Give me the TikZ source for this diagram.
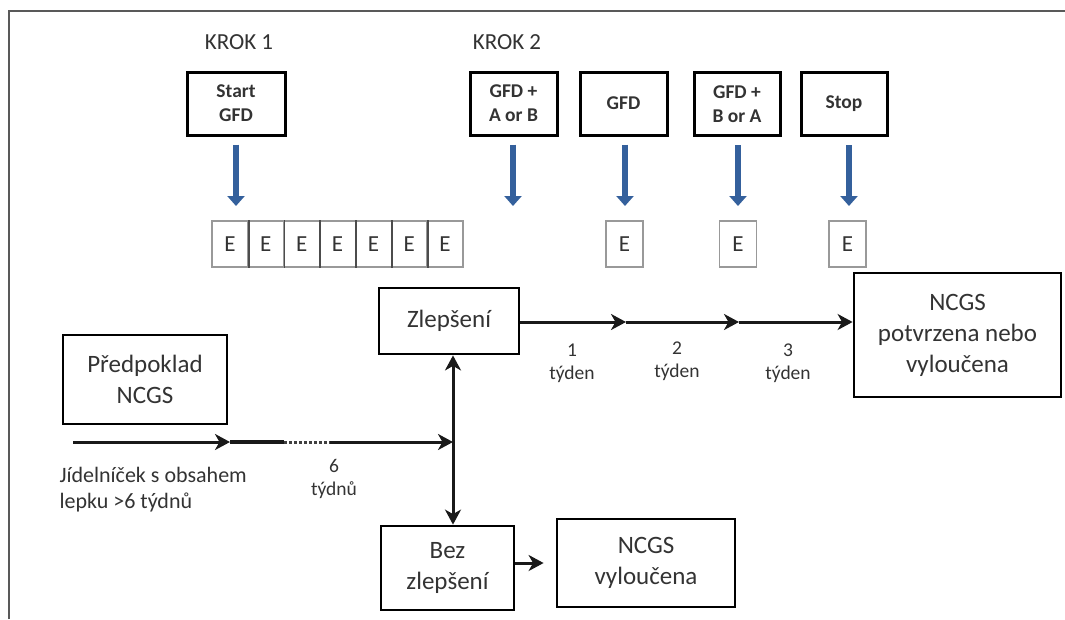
\documentclass[tikz,border=0pt]{standalone}
\usepackage{fontspec}
\setmainfont{Carlito}
\usetikzlibrary{arrows.meta}
\definecolor{blueA}{HTML}{34609C}
\definecolor{txt}{HTML}{333333}
\tikzset{
  x=1pt, y=-1pt,
  topbox/.style={draw, line width=3pt, inner sep=0pt, align=center, text=txt,
    font=\bfseries\fontsize{19.5}{24}\selectfont},
  mainbox/.style={draw, line width=2.8pt, inner sep=0pt, align=center, text=txt,
    font=\fontsize{25}{31}\selectfont},
  ecell/.style={draw=black!40, line width=1.6pt, minimum width=35.86pt, minimum height=46pt,
    inner sep=0pt, text=txt, font=\fontsize{23}{26}\selectfont},
  steplabel/.style={text=txt, font=\fontsize{23}{26}\selectfont},
  weeklabel/.style={align=center, text=txt, font=\fontsize{19.5}{23}\selectfont},
  barrow/.style={draw=blueA, line width=6.5pt, -{Triangle[width=17pt,length=10pt]}},
  conn/.style={draw=black!90, line width=3pt},
  tip/.style={-{Stealth[length=15pt,width=16pt,inset=4.5pt]}},
  dtip/.style={{Stealth[length=15pt,width=16pt,inset=4.5pt]}-{Stealth[length=15pt,width=16pt,inset=4.5pt]}},
  framec/.style={draw=black!65, line width=1.6pt}
}
\begin{document}
\begin{tikzpicture}
\useasboundingbox (0,0) rectangle (1065,619);
% frame
\draw[framec] (9,619) -- (9,11) -- (1065,11);

% step labels
\node[steplabel] (k1) at (239,42) {KROK 1};
\node[steplabel] (k2) at (507,42) {KROK 2};

% top boxes
\node[topbox, minimum width=98pt, minimum height=63pt] (sg) at (236,103.5) {Start\\GFD};
\node[topbox, minimum width=87pt, minimum height=63pt] (ga) at (513.5,103.5) {GFD +\\A or B};
\node[topbox, minimum width=87pt, minimum height=63pt] (g) at (623.5,103.5) {GFD};
\node[topbox, minimum width=86pt, minimum height=63pt] (gb) at (737,104) {GFD +\\B or A};
\node[topbox, minimum width=86pt, minimum height=63pt] (st) at (844,104) {Stop};

% E row
\foreach \i in {0,...,6} {
  \node[ecell] (e\i) at ({229.93+35.86*\i},244) {E};
}
\foreach \i in {0,...,5} {
  \draw[draw=black!70, line width=1.8pt] (e\i.north east) -- (e\i.south east);
}
\node[ecell, minimum width=37pt] (s1) at (624.5,244) {E};
\node[ecell, minimum width=37pt] (s2) at (738,244) {E};
\node[ecell, minimum width=37pt] (s3) at (847.5,244) {E};

% blue arrows
\coordinate (r1) at (236,206);
\coordinate (r2) at (513,206);
\coordinate (r3) at (625,206);
\coordinate (r4) at (738,206);
\coordinate (r5) at (849,206);
\draw[barrow] (sg.south -| r1) ++(0,8) -- (r1);
\draw[barrow] (ga.south -| r2) ++(0,8) -- (r2);
\draw[barrow] (g.south -| r3) ++(0,8) -- (r3);
\draw[barrow] (gb.south -| r4) ++(0,8) -- (r4);
\draw[barrow] (st.south -| r5) ++(0,8) -- (r5);

% main boxes
\node[mainbox, minimum width=140pt, minimum height=66pt] (zl) at (449,321) {Zlepšení};
\node[mainbox, minimum width=207pt, minimum height=124pt] (ncp) at (957.5,335)
  {NCGS\\potvrzena nebo\\vyloučena};
\node[mainbox, minimum width=164pt, minimum height=89pt] (pred) at (145,379.5) {Předpoklad\\NCGS};
\node[mainbox, minimum width=133pt, minimum height=84pt] (bz) at (447.5,568) {Bez\\zlepšení};
\node[mainbox, minimum width=178pt, minimum height=88pt] (nv) at (646,563) {NCGS\\vyloučena};

% week arrows
\coordinate (w1) at (626,322);
\coordinate (w2) at (739,322);
\draw[conn, tip] (zl.east |- w1) -- (w1);
\draw[conn, tip] (w1) -- (w2);
\draw[conn, tip] (w2) -- (w2 -| ncp.west);
\node[weeklabel] (l1) at (572,363.5) {1\\týden};
\node[weeklabel] (l2) at (677,361.5) {2\\týden};
\node[weeklabel] (l3) at (788,363.5) {3\\týden};

% diet line
\coordinate (a0) at (73,442);
\coordinate (a1) at (230,442);
\coordinate (a2) at (284,442);
\coordinate (a3) at (330,442);
\coordinate (j) at (453,442);
\draw[conn, tip] (a0) -- (a1);
\draw[draw=black!90, line width=4.5pt] (a1) -- (a2);
\draw[draw=black!75, line width=3pt, dotted] (a2) -- (a3);
\draw[conn, tip] (a3) -- (j);
\draw[conn, dtip] (zl.south -| j) -- (bz.north -| j);

\node[weeklabel] (six) at (334,478.5) {6\\týdnů};
\node[anchor=west, align=left, text=txt, font=\fontsize{22}{26}\selectfont] (diet) at (56,490)
  {Jídelníček s obsahem\\lepku >6 týdnů};

% to excluded
\draw[conn, tip, shorten >=12pt] (bz.east |- nv.west) -- (nv.west);
\end{tikzpicture}
\end{document}
